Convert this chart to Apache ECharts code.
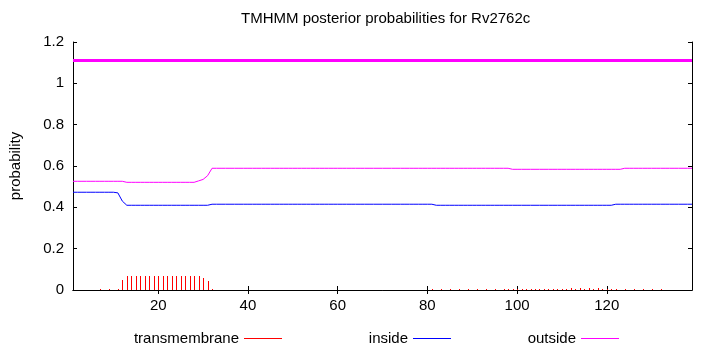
<!DOCTYPE html>
<html>
<head>
<meta charset="utf-8">
<script src="https://cdn.jsdelivr.net/npm/echarts@6/dist/echarts.min.js"></script>
<style>
html,body{margin:0;padding:0;background:#fff;}
#chart{width:710px;height:350px;}
</style>
</head>
<body>
<div id="chart"></div>
<script>
// ---- data ----
const title = 'TMHMM posterior probabilities for Rv2762c';
const seqLength = 139;
const residues = Array.from({length: seqLength}, (_, i) => i + 1);

const transmembrane = [
  0,0,0,0,0,0,0.005,0,0.005,0,                                   // 1-10
  0.005,0.048,0.069,0.069,0.069,0.069,0.069,0.069,0.069,0.069,   // 11-20
  0.069,0.069,0.069,0.069,0.069,0.069,0.069,0.069,0.069,0.060,   // 21-30
  0.045,0.006,0,0,0,0,0,0,0,0,                                   // 31-40
  0,0,0,0,0,0,0,0,0,0,                                           // 41-50
  0,0,0,0,0,0,0,0,0,0,                                           // 51-60
  0,0,0,0,0,0,0,0,0,0,                                           // 61-70
  0,0,0,0,0,0,0,0,0,0,                                           // 71-80
  0.005,0,0.005,0,0.005,0,0.005,0,0.005,0,                       // 81-90
  0.005,0,0.005,0,0.005,0,0.005,0.005,0.005,0.005,               // 91-100
  0.005,0.005,0.005,0.005,0.005,0.005,0.005,0.005,0.005,0.005,   // 101-110
  0.005,0.012,0.005,0.012,0.005,0.012,0.005,0.012,0.005,0.005,   // 111-120
  0.005,0.005,0,0.005,0,0.005,0,0.005,0,0.005,                   // 121-130
  0,0.005,0,0,0,0,0,0,0                                          // 131-139
];

const inside = [
  0.473,0.473,0.473,0.473,0.473,0.473,0.473,0.473,0.473,0.473,   // 1-10
  0.470,0.430,0.410,0.410,0.410,0.410,0.410,0.410,0.410,0.410,   // 11-20
  0.410,0.410,0.410,0.410,0.410,0.410,0.410,0.410,0.410,0.410,   // 21-30
  0.410,0.415,0.415,0.415,0.415,0.415,0.415,0.415,0.415,0.415,   // 31-40
  0.415,0.415,0.415,0.415,0.415,0.415,0.415,0.415,0.415,0.415,   // 41-50
  0.415,0.415,0.415,0.415,0.415,0.415,0.415,0.415,0.415,0.415,   // 51-60
  0.415,0.415,0.415,0.415,0.415,0.415,0.415,0.415,0.415,0.415,   // 61-70
  0.415,0.415,0.415,0.415,0.415,0.415,0.415,0.415,0.415,0.415,   // 71-80
  0.415,0.410,0.410,0.410,0.410,0.410,0.410,0.410,0.410,0.410,   // 81-90
  0.410,0.410,0.410,0.410,0.410,0.410,0.410,0.410,0.410,0.410,   // 91-100
  0.410,0.410,0.410,0.410,0.410,0.410,0.410,0.410,0.410,0.410,   // 101-110
  0.410,0.410,0.410,0.410,0.410,0.410,0.410,0.410,0.410,0.410,   // 111-120
  0.410,0.415,0.415,0.415,0.415,0.415,0.415,0.415,0.415,0.415,   // 121-130
  0.415,0.415,0.415,0.415,0.415,0.415,0.415,0.415,0.415          // 131-139
];

const outside = [
  0.526,0.526,0.526,0.526,0.526,0.526,0.526,0.526,0.526,0.526,   // 1-10
  0.526,0.526,0.521,0.521,0.521,0.521,0.521,0.521,0.521,0.521,   // 11-20
  0.521,0.521,0.521,0.521,0.521,0.521,0.521,0.521,0.528,0.535,   // 21-30
  0.553,0.589,0.589,0.589,0.589,0.589,0.589,0.589,0.589,0.589,   // 31-40
  0.589,0.589,0.589,0.589,0.589,0.589,0.589,0.589,0.589,0.589,   // 41-50
  0.589,0.589,0.589,0.589,0.589,0.589,0.589,0.589,0.589,0.589,   // 51-60
  0.589,0.589,0.589,0.589,0.589,0.589,0.589,0.589,0.589,0.589,   // 61-70
  0.589,0.589,0.589,0.589,0.589,0.589,0.589,0.589,0.589,0.589,   // 71-80
  0.589,0.589,0.589,0.589,0.589,0.589,0.589,0.589,0.589,0.589,   // 81-90
  0.589,0.589,0.589,0.589,0.589,0.589,0.589,0.589,0.584,0.584,   // 91-100
  0.584,0.584,0.584,0.584,0.584,0.584,0.584,0.584,0.584,0.584,   // 101-110
  0.584,0.584,0.584,0.584,0.584,0.584,0.584,0.584,0.584,0.584,   // 111-120
  0.584,0.584,0.584,0.589,0.589,0.589,0.589,0.589,0.589,0.589,   // 121-130
  0.589,0.589,0.589,0.589,0.589,0.589,0.589,0.589,0.589          // 131-139
];

// predicted topology: whole sequence outside, drawn as thick bar at this level
const topologyRegions = [[1, 139]];
const topologyLevel = 1.11;

const xTicks = [20, 40, 60, 80, 100, 120];
const yTicks = [0, 0.2, 0.4, 0.6, 0.8, 1, 1.2];

// ---- chart ----
const FONT = 'Liberation Sans';
const FS = 15;
const chart = echarts.init(document.getElementById('chart'), null, {renderer: 'canvas'});

const pair = arr => residues.map((r, i) => [r, arr[i]]);
const topologyData = [];
topologyRegions.forEach(seg => {
  topologyData.push([seg[0], topologyLevel], [seg[1], topologyLevel], [null, null]);
});

const axisLine = {show: true, lineStyle: {color: '#000', width: 1}};
const legendBase = {
  orient: 'horizontal', top: 331, align: 'right', padding: 0,
  itemWidth: 38, itemHeight: 1,
  textStyle: {fontFamily: FONT, fontSize: FS, color: '#000'}
};

chart.setOption({
  animation: false,
  backgroundColor: '#fff',
  title: {
    text: title, left: 241, top: 11, padding: 0,
    textStyle: {fontFamily: FONT, fontSize: FS, fontWeight: 'normal', color: '#000'}
  },
  legend: [
    Object.assign({}, legendBase, {right: 428, data: [{name: 'transmembrane', icon: 'rect'}]}),
    Object.assign({}, legendBase, {right: 259, data: [{name: 'inside', icon: 'rect'}]}),
    Object.assign({}, legendBase, {right: 91, data: [{name: 'outside', icon: 'rect'}]})
  ],
  grid: {left: 73, right: 18, top: 42, bottom: 60, containLabel: false},
  xAxis: [
    {
      type: 'value', position: 'bottom', min: 1, max: seqLength,
      axisLine: axisLine,
      axisTick: {show: true, inside: true, length: 4, customValues: xTicks, lineStyle: {color: '#000'}},
      axisLabel: {show: true, customValues: xTicks, margin: 8, fontFamily: FONT, fontSize: FS, color: '#000'},
      splitLine: {show: false}
    },
    {
      type: 'value', position: 'top', min: 1, max: seqLength,
      axisLine: axisLine,
      axisTick: {show: true, inside: true, length: 4, customValues: xTicks, lineStyle: {color: '#000'}},
      axisLabel: {show: false},
      splitLine: {show: false}
    }
  ],
  yAxis: [
    {
      type: 'value', position: 'left', min: 0, max: 1.2, interval: 0.2,
      name: 'probability', nameLocation: 'middle', nameRotate: 90, nameGap: 50,
      nameTextStyle: {fontFamily: FONT, fontSize: FS, color: '#000'},
      axisLine: axisLine,
      axisTick: {show: true, inside: true, length: 4, lineStyle: {color: '#000'}},
      axisLabel: {show: true, margin: 9, fontFamily: FONT, fontSize: FS, color: '#000',
        formatter: v => String(Math.round(v * 10) / 10)},
      splitLine: {show: false}
    },
    {
      type: 'value', position: 'right', min: 0, max: 1.2, interval: 0.2,
      axisLine: axisLine,
      axisTick: {show: true, inside: true, length: 4, lineStyle: {color: '#000'}},
      axisLabel: {show: false},
      splitLine: {show: false}
    }
  ],
  series: [
    {
      name: 'transmembrane', type: 'custom',
      xAxisIndex: 0, yAxisIndex: 0,
      itemStyle: {color: '#ff0000'},
      data: pair(transmembrane),
      renderItem: function (params, api) {
        const x = api.value(0), v = api.value(1);
        if (!v) return null;
        const p0 = api.coord([x, 0]);
        const p1 = api.coord([x, v]);
        const px = Math.round(p0[0]) + 0.5;
        return {
          type: 'line',
          shape: {x1: px, y1: p0[1], x2: px, y2: Math.round(p1[1])},
          style: {stroke: '#ff0000', lineWidth: 1}
        };
      },
      silent: true
    },
    {
      name: 'inside', type: 'line', symbol: 'none', showSymbol: false,
      data: pair(inside),
      itemStyle: {color: '#0000ff'},
      lineStyle: {color: '#0000ff', width: 1},
      silent: true
    },
    {
      name: 'outside', type: 'line', symbol: 'none', showSymbol: false,
      data: pair(outside),
      itemStyle: {color: '#ff00ff'},
      lineStyle: {color: '#ff00ff', width: 1},
      silent: true
    },
    {
      name: 'outside topology', type: 'line', symbol: 'none', showSymbol: false,
      data: topologyData, connectNulls: false,
      itemStyle: {color: '#ff00ff'},
      lineStyle: {color: '#ff00ff', width: 3},
      silent: true
    }
  ]
});
</script>
</body>
</html>
